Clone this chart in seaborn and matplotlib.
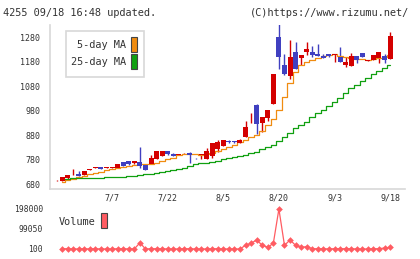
import numpy as np
import pandas as pd
import matplotlib
matplotlib.use("Agg")
import matplotlib.pyplot as plt
import matplotlib.transforms as mtransforms
from matplotlib.patches import Rectangle
import seaborn as sns

# --- data ---
opens = [695, 694, 703, 719, 721, 717, 738, 746, 748, 747, 747, 747, 770, 774, 764,
         769, 758, 762, 783, 794, 815, 804, 800, 805, 808, 787, 799, 783, 794, 823,
         836, 855, 855, 849, 873, 940, 1002, 928, 951, 1007, 1279, 1166, 1122, 1219, 1196,
         1219, 1219, 1211, 1204, 1209, 1206, 1200, 1167, 1163, 1203, 1215, 1183, 1186, 1196, 1204,
         1191]
highs = [696, 709, 718, 741, 733, 734, 742, 749, 749, 749, 749, 763, 771, 775, 775,
         833, 759, 798, 815, 816, 816, 805, 804, 808, 809, 788, 802, 826, 847, 860,
         861, 860, 856, 862, 938, 971, 1006, 953, 983, 1130, 1335, 1211, 1267, 1261, 1208,
         1258, 1243, 1251, 1210, 1211, 1209, 1240, 1197, 1213, 1204, 1216, 1186, 1208, 1220, 1211,
         1302]
lows = [694, 693, 702, 718, 713, 716, 737, 744, 740, 746, 746, 746, 754, 759, 763,
        744, 736, 761, 782, 793, 797, 795, 799, 804, 765, 784, 784, 782, 788, 810,
        835, 849, 849, 848, 872, 928, 884, 893, 938, 1006, 1148, 1125, 1109, 1150, 1164,
        1207, 1200, 1201, 1195, 1200, 1178, 1177, 1159, 1162, 1175, 1199, 1182, 1185, 1175, 1175,
        1190]
closes = [695, 708, 717, 720, 714, 733, 741, 748, 741, 748, 748, 762, 755, 760, 774,
          753, 737, 786, 813, 813, 802, 796, 803, 807, 800, 785, 801, 816, 846, 850,
          860, 850, 850, 861, 914, 942, 925, 952, 982, 1129, 1197, 1130, 1197, 1151, 1207,
          1231, 1206, 1202, 1196, 1201, 1208, 1178, 1178, 1203, 1186, 1200, 1185, 1207, 1219, 1188,
          1284]
ma5 = [np.nan, 687, 696, 700, 709, 713, 720, 726, 730, 737, 742, 745, 748, 752, 758,
       762, 760, 762, 767, 774, 781, 787, 797, 804, 804, 802, 797, 801, 805, 813, 822,
       832, 840, 851, 860, 871, 879, 896, 921, 944, 982,
       1036, 1091, 1138, 1166, 1177, 1185, 1194, 1201, 1208, 1209,
       1203, 1197, 1194, 1191, 1189, 1185, 1190, 1196, 1198, 1205]
ma25 = [np.nan, 700, 701, 703, 704, 704, 704, 705, 706, 707, 707, 707, 708, 711, 714,
        716, 719, 719, 723, 729, 733, 738, 741, 745, 753, 760, 764, 764, 769, 775, 781,
        787, 789, 794, 798, 805, 812, 822, 830, 839, 857,
        872, 890, 908, 921, 934, 953, 968, 983, 998, 1015,
        1032, 1050, 1070, 1086, 1100, 1113, 1128, 1142, 1153, 1164]
volume = [np.nan, 1500, 1500, 300, 300, 1500, 300, 1500, 300, 300, 300,
          1500, 1500, 300, 300, 31000, 300, 1500, 1500, 1500, 300,
          300, 300, 1500, 1500, 300, 300, 300, 1500, 1500, 300,
          300, 300, 300, 18400, 28300, 44800, 18400, 8500, 28300, 198000,
          18400, 44800, 18400, 8500, 11800, 1500, 1500, 1500, 300, 1500,
          1500, 1500, 1500, 300, 300, 300, 1500, 1500, 5000, 8500]
date_labels = ["7/7", "7/22", "8/5", "8/20", "9/3", "9/18"]
date_pos = [10, 20, 30, 40, 50, 60]
price_ticks = [680, 780, 880, 980, 1080, 1180, 1280]
vol_ticks = [100, 99050, 198000]

df = pd.DataFrame({"idx": np.arange(len(closes)), "open": opens, "high": highs,
                   "low": lows, "close": closes, "ma5": ma5, "ma25": ma25, "vol": volume})

sns.set_style("white")
plt.rcParams["font.family"] = ["DejaVu Sans Mono"]

W, H = 420, 259
fig = plt.figure(figsize=(W / 100, H / 100), dpi=100)

def fx(px):
    return px / W

def fy(py):
    return 1 - py / H

up_col = "#d40000"
down_col = "#4040c0"
grid_col = "#d8d8d8"
txt_col = "#333333"

# main price axes
ax = fig.add_axes([fx(50), fy(189), fx(405) - fx(50), fy(25) - fy(189)])
ax.set_xlim(-1.17, 62.68)
ax.set_ylim(659.6, 1329)

is_up = df["close"] >= df["open"]
colors = np.where(is_up, up_col, down_col)
ax.vlines(df["idx"], df["low"], df["high"], colors=colors, lw=1.0, zorder=2)
body_low = np.minimum(df["open"], df["close"])
body_h = np.maximum(np.abs(df["close"] - df["open"]), 3)
ax.bar(df["idx"], body_h, bottom=body_low, width=0.9, color=colors, lw=0, zorder=4)

sns.lineplot(data=df, x="idx", y="ma5", ax=ax, color="#f08c10", lw=0.9,
             drawstyle="steps-mid", legend=False, zorder=3)
sns.lineplot(data=df, x="idx", y="ma25", ax=ax, color="#10a010", lw=0.9,
             drawstyle="steps-mid", legend=False, zorder=3)

for s in ["top", "right"]:
    ax.spines[s].set_visible(False)
for s in ["left", "bottom"]:
    ax.spines[s].set_color(grid_col)
    ax.spines[s].set_linewidth(1.2)
ax.set_yticks(price_ticks)
ax.set_yticklabels([str(v) for v in price_ticks], fontsize=6, color=txt_col)
ax.set_xticks(np.linspace(-1.17, 62.68, 12)[1:])
ax.set_xticklabels([])
ax.tick_params(axis="y", length=5, width=1, color=grid_col, pad=2, direction="out")
ax.tick_params(axis="x", length=5, width=1, color=grid_col)
ax.set_xlabel("")
ax.set_ylabel("")

# legend box
fig.patches.append(Rectangle((fx(65.5), fy(77)), fx(144) - fx(65.5), fy(31) - fy(77),
                             transform=fig.transFigure, fill=False,
                             edgecolor=grid_col, lw=1.2))
fig.text(fx(126), fy(45), "5-day MA", ha="right", va="center", fontsize=7.4, color=txt_col)
fig.text(fx(126), fy(62), "25-day MA", ha="right", va="center", fontsize=7.4, color=txt_col)
fig.patches.append(Rectangle((fx(131), fy(52)), fx(6), fy(0) - fy(15),
                             transform=fig.transFigure, facecolor="#f08c10",
                             edgecolor="#444444", lw=0.8))
fig.patches.append(Rectangle((fx(131), fy(69)), fx(6), fy(0) - fy(15),
                             transform=fig.transFigure, facecolor="#10a010",
                             edgecolor="#444444", lw=0.8))

# volume axes
axv = fig.add_axes([fx(50), fy(249), fx(405) - fx(50), fy(209) - fy(249)])
axv.set_xlim(-1.17, 62.68)
axv.set_ylim(100, 198000)
sns.lineplot(data=df, x="idx", y="vol", ax=axv, color="#ff5c62", lw=0.9,
             marker="D", markersize=3.4, markeredgewidth=0, legend=False, clip_on=False)
for s in axv.spines.values():
    s.set_visible(False)
axv.set_xticks([])
axv.set_yticks(vol_ticks)
axv.set_yticklabels([str(v) for v in vol_ticks], fontsize=5.8, color=txt_col)
axv.tick_params(axis="y", length=0, pad=5)
axv.set_xlabel("")
axv.set_ylabel("")

fig.text(fx(58.5), fy(222), "Volume", ha="left", va="center", fontsize=7.4, color=txt_col)
fig.patches.append(Rectangle((fx(101), fy(228)), fx(6), fy(0) - fy(15),
                             transform=fig.transFigure, facecolor="#ff5c62",
                             edgecolor="#444444", lw=0.8))

# date labels between panels
trans = mtransforms.blended_transform_factory(ax.transData, fig.transFigure)
for pos, lab in zip(date_pos, date_labels):
    ax.text(pos, fy(198), lab, transform=trans, ha="center", va="center",
            fontsize=6, color=txt_col, clip_on=False)

# header
fig.text(fx(3), fy(13), "4255 09/18 16:48 updated.", ha="left", va="center",
         fontsize=7.4, color=txt_col)
fig.text(fx(409), fy(13), "(C)https://www.rizumu.net/", ha="right", va="center",
         fontsize=7.4, color=txt_col)

fig.savefig("out.png", dpi=100)
